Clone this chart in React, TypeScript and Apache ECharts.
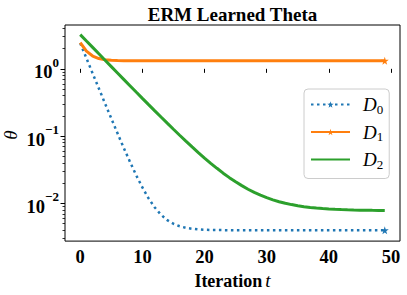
import { useEffect, useRef } from "react";
import * as echarts from "echarts";

const ITERATIONS = [
  0, 1, 2, 3, 4, 5, 6, 7, 8, 9, 10, 11, 12, 13, 14, 15, 16, 17, 18, 19, 20, 21, 22, 23, 24,
  25, 26, 27, 28, 29, 30, 31, 32, 33, 34, 35, 36, 37, 38, 39, 40, 41, 42, 43, 44, 45, 46, 47, 48, 49,
];

const D0 = [
  2.41, 1.434, 0.854, 0.51, 0.305, 0.183, 0.11, 0.0672, 0.0416, 0.0263, 0.0173, 0.0119, 0.0087,
  0.0068, 0.00566, 0.00499, 0.00459, 0.00435, 0.00421, 0.00412, 0.00407, 0.00404, 0.00403, 0.00402,
  0.00401, 0.004, 0.004, 0.004, 0.004, 0.004, 0.004, 0.004, 0.004, 0.004, 0.004, 0.004, 0.004,
  0.004, 0.004, 0.004, 0.004, 0.004, 0.004, 0.004, 0.004, 0.004, 0.004, 0.004, 0.004, 0.004,
];

const D1 = [
  2.46, 1.832, 1.55, 1.423, 1.366, 1.341, 1.329, 1.324, 1.322, 1.321, 1.32, 1.32, 1.32, 1.32, 1.32,
  1.32, 1.32, 1.32, 1.32, 1.32, 1.32, 1.32, 1.32, 1.32, 1.32, 1.32, 1.32, 1.32, 1.32, 1.32, 1.32,
  1.32, 1.32, 1.32, 1.32, 1.32, 1.32, 1.32, 1.32, 1.32, 1.32, 1.32, 1.32, 1.32, 1.32, 1.32, 1.32,
  1.32, 1.32, 1.32,
];

const D2 = [
  3.228, 2.592, 2.082, 1.672, 1.344, 1.08, 0.868, 0.698, 0.5617, 0.4523, 0.3645, 0.2941, 0.2375,
  0.1922, 0.1558, 0.1265, 0.1031, 0.0843, 0.0692, 0.057, 0.0473, 0.0395, 0.0333, 0.0282, 0.0242,
  0.021, 0.0184, 0.01627, 0.01458, 0.01326, 0.01218, 0.01131, 0.01062, 0.01006, 0.00962, 0.00926,
  0.00897, 0.00874, 0.00855, 0.0084, 0.00829, 0.00819, 0.00811, 0.00805, 0.008, 0.00796, 0.00793,
  0.0079, 0.00788, 0.00787,
];

const SERIES_NAMES = ["D0", "D1", "D2"];
const X_TICKS = [0, 10, 20, 30, 40, 50];
const Y_MAJOR_EXPONENTS = [-2, -1, 0];
const Y_MINOR_TICKS = [
  0.003, 0.004, 0.005, 0.006, 0.007, 0.008, 0.009, 0.02, 0.03, 0.04, 0.05, 0.06, 0.07, 0.08, 0.09,
  0.2, 0.3, 0.4, 0.5, 0.6, 0.7, 0.8, 0.9, 2, 3, 4,
];

const X_MIN = -2.45;
const X_MAX = 51.45;
const Y_MIN = 0.00276;
const Y_MAX = 4.48;

const SERIF = "Liberation Serif";
const STAR =
  "path://M50,0 L61,35 L98,35 L68,57 L79,91 L50,70 L21,91 L32,57 L2,35 L39,35 Z";

function buildData(values: number[], marker: boolean) {
  const last = values.length - 1;
  return ITERATIONS.map((t, i) =>
    marker && i === last
      ? { value: [t, values[i]] }
      : { value: [t, values[i]], symbol: "none" }
  );
}

export default function App() {
  const ref = useRef<HTMLDivElement>(null);

  useEffect(() => {
    if (!ref.current) return;
    const chart = echarts.init(ref.current, null, { renderer: "svg" });
    const logMin = Math.log10(Y_MIN);
    const logMax = Math.log10(Y_MAX);

    chart.setOption({
      animation: false,
      backgroundColor: "#fff",
      textStyle: { fontFamily: SERIF },
      grid: {
        left: 65,
        top: 25,
        width: 335,
        height: 218,
        show: true,
        borderColor: "#000",
        borderWidth: 1,
        containLabel: false,
      },
      graphic: [
        {
          type: "text",
          x: 232.5,
          y: 14,
          style: {
            text: "ERM Learned Theta",
            font: `bold 19px ${SERIF}`,
            fill: "#000",
            textAlign: "center",
            textVerticalAlign: "middle",
          },
        },
        {
          type: "text",
          x: 10,
          y: 135,
          rotation: Math.PI / 2,
          style: {
            text: "θ",
            font: `italic 19px ${SERIF}`,
            fill: "#000",
            textAlign: "center",
            textVerticalAlign: "middle",
          },
        },
      ],
      xAxis: {
        type: "value",
        min: X_MIN,
        max: X_MAX,
        name: "{b|Iteration} {i|t}",
        nameLocation: "middle",
        nameGap: 26,
        nameTextStyle: {
          fontFamily: SERIF,
          rich: {
            b: { fontFamily: SERIF, fontWeight: "bold", fontSize: 18, color: "#000" },
            i: { fontFamily: SERIF, fontStyle: "italic", fontSize: 19, color: "#000" },
          },
        },
        axisLine: { show: false },
        splitLine: { show: false },
        axisTick: {
          show: true,
          customValues: X_TICKS,
          length: 4,
          lineStyle: { color: "#000", width: 1 },
        },
        axisLabel: {
          customValues: X_TICKS,
          margin: 6,
          fontFamily: SERIF,
          fontWeight: "bold",
          fontSize: 18.5,
          color: "#000",
        },
      },
      yAxis: [
        {
          type: "log",
          logBase: 10,
          min: Y_MIN,
          max: Y_MAX,
          show: false,
          splitLine: { show: false },
        },
        {
          type: "value",
          min: logMin,
          max: logMax,
          position: "left",
          axisLine: { show: false },
          splitLine: { show: false },
          axisTick: {
            show: true,
            customValues: Y_MAJOR_EXPONENTS,
            length: 4.5,
            lineStyle: { color: "#000", width: 1 },
          },
          axisLabel: {
            customValues: Y_MAJOR_EXPONENTS,
            margin: 6,
            fontFamily: SERIF,
            fontWeight: "bold",
            fontSize: 18.5,
            color: "#000",
            formatter: (v: number) => {
              const e = Math.round(v);
              const s = e < 0 ? "\u2212" + String(-e) : String(e);
              return `{b|10}{s|${s}}`;
            },
            rich: {
              b: {
                fontFamily: SERIF,
                fontWeight: "bold",
                fontSize: 18.5,
                color: "#000",
                lineHeight: 26,
                verticalAlign: "bottom",
              },
              s: {
                fontFamily: SERIF,
                fontWeight: "bold",
                fontSize: 13,
                color: "#000",
                lineHeight: 26,
                verticalAlign: "top",
              },
            },
          },
        },
        {
          type: "value",
          min: logMin,
          max: logMax,
          position: "left",
          axisLine: { show: false },
          splitLine: { show: false },
          axisTick: {
            show: true,
            customValues: Y_MINOR_TICKS.map((v) => Math.log10(v)),
            length: 2.5,
            lineStyle: { color: "#000", width: 0.8 },
          },
          axisLabel: { show: false },
        },
      ],
      legend: {
        orient: "vertical",
        left: 304,
        top: 89,
        padding: [6, 6, 8, 6],
        itemWidth: 39,
        itemHeight: 8,
        itemGap: 7,
        backgroundColor: "rgba(255,255,255,0.8)",
        borderColor: "#cccccc",
        borderWidth: 1,
        borderRadius: 4,
        data: [
          { name: "D0" },
          { name: "D1" },
          { name: "D2", itemStyle: { opacity: 0 } },
        ],
        formatter: (name: string) => `{d|D}{s|${name.slice(1)}}`,
        textStyle: {
          fontFamily: SERIF,
          rich: {
            d: {
              fontFamily: SERIF,
              fontStyle: "italic",
              fontSize: 19,
              color: "#000",
              lineHeight: 22,
              verticalAlign: "middle",
              padding: [0, 0, 0, 8],
            },
            s: {
              fontFamily: SERIF,
              fontSize: 13,
              color: "#000",
              lineHeight: 22,
              verticalAlign: "bottom",
            },
          },
        },
      },
      series: [
        {
          name: SERIES_NAMES[0],
          type: "line",
          yAxisIndex: 0,
          data: buildData(D0, true),
          symbol: STAR,
          symbolSize: 8,
          showSymbol: true,
          color: "#1f77b4",
          lineStyle: { width: 2.5, type: [2.5, 3.5], color: "#1f77b4" },
          itemStyle: { color: "#1f77b4" },
          z: 3,
        },
        {
          name: SERIES_NAMES[1],
          type: "line",
          yAxisIndex: 0,
          data: buildData(D1, true),
          symbol: STAR,
          symbolSize: 8,
          showSymbol: true,
          color: "#ff7f0e",
          lineStyle: { width: 3, color: "#ff7f0e" },
          itemStyle: { color: "#ff7f0e" },
          z: 4,
        },
        {
          name: SERIES_NAMES[2],
          type: "line",
          yAxisIndex: 0,
          data: buildData(D2, false),
          symbol: "none",
          showSymbol: false,
          color: "#2ca02c",
          lineStyle: { width: 3, color: "#2ca02c" },
          itemStyle: { color: "#2ca02c" },
          z: 5,
        },
      ],
    });

    return () => chart.dispose();
  }, []);

  return (
    <div
      ref={ref}
      style={{ width: 407, height: 295, position: "absolute", left: 0, top: 0 }}
    />
  );
}
